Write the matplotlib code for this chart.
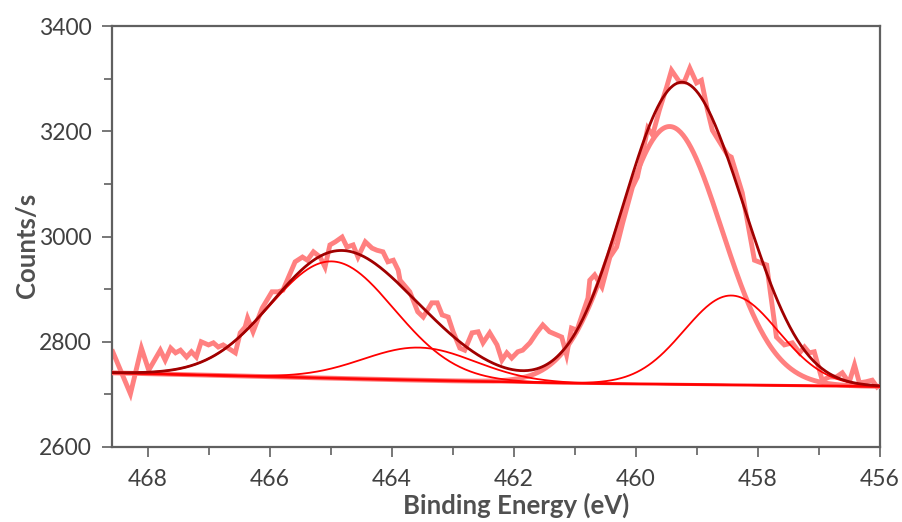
import numpy as np
import matplotlib
matplotlib.use("Agg")
import matplotlib.pyplot as plt
from matplotlib.ticker import MultipleLocator

plt.rcParams['font.family'] = ['Lato', 'DejaVu Sans']

# Raw spectrum (binding energy eV, counts/s)
raw_energy = [468.57, 468.28, 468.10, 467.98, 467.79, 467.71, 467.62, 467.54, 467.46, 467.36,
              467.28, 467.20, 467.12, 467.00, 466.92, 466.84, 466.76, 466.68, 466.56, 466.48,
              466.40, 466.36, 466.27, 466.12, 465.96, 465.86, 465.78, 465.58, 465.46, 465.38,
              465.28, 465.17, 465.09, 465.01, 464.92, 464.81, 464.73, 464.63, 464.55, 464.43,
              464.32, 464.24, 464.14, 464.06, 463.97, 463.89, 463.86, 463.70, 463.57, 463.48,
              463.34, 463.25, 463.17, 463.07, 462.99, 462.88, 462.80, 462.68, 462.58, 462.50,
              462.39, 462.27, 462.19, 462.11, 462.03, 461.93, 461.85, 461.73, 461.62, 461.52,
              461.41, 461.29, 461.21, 461.13, 461.05, 460.96, 460.78, 460.75, 460.67, 460.55,
              460.42, 460.31, 460.21, 460.05, 459.97, 459.85, 459.80, 459.72, 459.61, 459.49,
              459.41, 459.28, 459.20, 459.11, 459.00, 458.92, 458.82, 458.74, 458.49, 458.43,
              458.25, 458.05, 457.85, 457.69, 457.56, 457.43, 457.31, 457.23, 457.15, 457.07,
              456.94, 456.82, 456.71, 456.61, 456.50, 456.41, 456.33, 456.22, 456.12, 456.04]
raw_counts = [2781, 2701, 2788, 2746, 2784, 2765, 2788, 2779, 2784, 2771,
              2781, 2771, 2800, 2794, 2798, 2790, 2794, 2788, 2779, 2817,
              2828, 2845, 2819, 2864, 2895, 2895, 2898, 2952, 2961, 2955,
              2971, 2961, 2942, 2984, 2990, 2999, 2980, 2984, 2961, 2990,
              2978, 2974, 2971, 2952, 2955, 2936, 2917, 2895, 2857, 2847,
              2874, 2874, 2851, 2847, 2819, 2788, 2784, 2817, 2819, 2798,
              2817, 2794, 2765, 2779, 2769, 2781, 2784, 2798, 2817, 2832,
              2819, 2813, 2809, 2775, 2826, 2822, 2883, 2917, 2927, 2904,
              2961, 2980, 3026, 3094, 3113, 3178, 3206, 3193, 3240, 3284,
              3316, 3294, 3294, 3320, 3292, 3297, 3240, 3202, 3155, 3151,
              3083, 2955, 2946, 2809, 2794, 2798, 2779, 2790, 2779, 2781,
              2727, 2733, 2733, 2741, 2722, 2756, 2722, 2724, 2727, 2714]

# Background anchor points
bg_energy = [456.0, 461.0, 464.0, 468.6]
bg_counts = [2715, 2721, 2728, 2741]

# Fitted peak components: centre (eV), height above background, sigma (eV)
peak_centers = [464.98, 463.55, 459.44, 458.43]
peak_heights = [222, 62, 490, 170]
peak_sigmas = [1.02, 0.92, 0.85, 0.77]
peak_thick = [False, False, True, False]

fig = plt.figure(figsize=(9.03, 5.22), dpi=100)
ax = fig.add_axes([0.1235, 0.1437, 0.8505, 0.8063])

E = np.linspace(456.0, 468.6, 600)
bg = np.interp(E, bg_energy, bg_counts)

ax.plot(raw_energy, raw_counts, color='#ff8080', lw=3.5, solid_joinstyle='miter', zorder=2)

env = bg.copy()
for c, h, s, thick in zip(peak_centers, peak_heights, peak_sigmas, peak_thick):
    comp = h * np.exp(-(E - c) ** 2 / (2 * s ** 2))
    env += comp
    if thick:
        ax.plot(E, bg + comp, color='#ff8080', lw=3.5, zorder=3)
    else:
        ax.plot(E, bg + comp, color='#ff0000', lw=1.3, zorder=4)
ax.plot(E, bg, color='#ff3030', lw=2.2, zorder=3)
ax.plot(E, env, color='#a00000', lw=2.0, zorder=5)

ax.set_xlim(468.59, 456.0)
ax.set_ylim(2600, 3400)
ax.xaxis.set_major_locator(MultipleLocator(2))
ax.xaxis.set_minor_locator(MultipleLocator(1))
ax.yaxis.set_major_locator(MultipleLocator(200))
ax.yaxis.set_minor_locator(MultipleLocator(100))

grey = '#606060'
for sp in ax.spines.values():
    sp.set_color(grey)
    sp.set_linewidth(1.6)
ax.tick_params(which='both', direction='out', color=grey, width=1.2,
               labelcolor='#404040', labelsize=16.5, top=False, right=False)
ax.tick_params(which='major', length=7)
ax.tick_params(which='minor', length=6)
ax.tick_params(axis='x', pad=9)
ax.tick_params(axis='y', pad=7)

ax.set_xlabel('Binding Energy (eV)', fontsize=18.5, fontweight='bold', color='#505050')
ax.set_ylabel('Counts/s', fontsize=18.5, fontweight='bold', color='#505050')
ax.xaxis.set_label_coords(0.527, -0.108)
ax.yaxis.set_label_coords(-0.094, 0.48)

fig.savefig('out.png', dpi=100)
